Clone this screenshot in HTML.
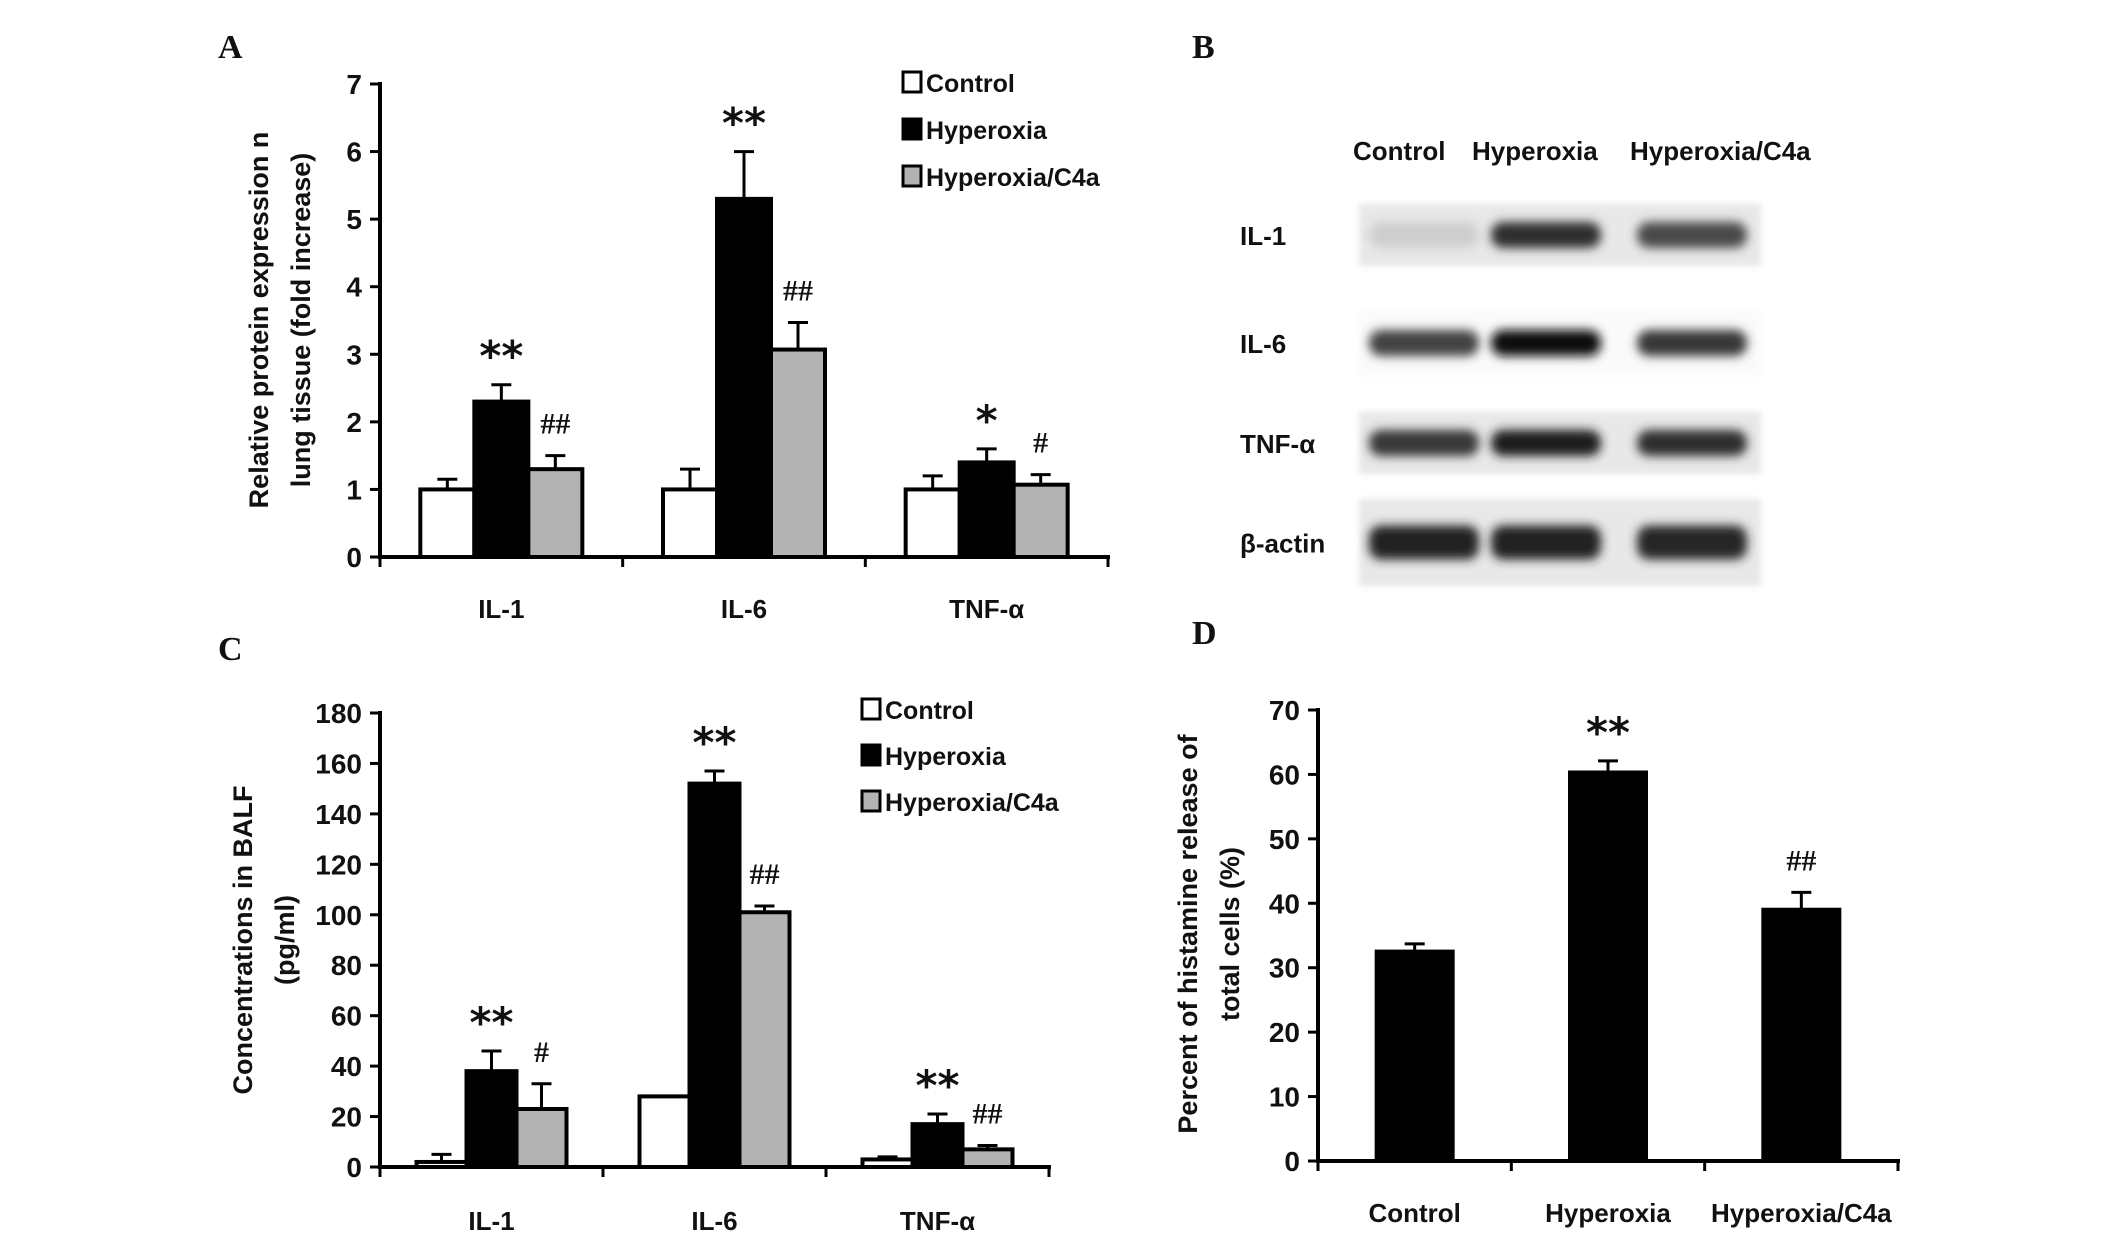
<!DOCTYPE html>
<html><head><meta charset="utf-8"><style>
html,body{margin:0;padding:0;background:#fff}
svg{display:block}
text{font-family:"Liberation Sans",sans-serif;font-weight:bold;fill:#111}
</style></head><body>
<svg id="fig" width="2126" height="1236" viewBox="0 0 2126 1236" xmlns="http://www.w3.org/2000/svg">
<defs>
<filter id="blur" x="-30%" y="-100%" width="160%" height="300%"><feGaussianBlur stdDeviation="5"/></filter>
<filter id="blur2"><feGaussianBlur stdDeviation="3"/></filter>
</defs>
<text x="218" y="58" style="font-family:'Liberation Serif',serif;font-size:34px">A</text>
<text x="1192" y="58" style="font-family:'Liberation Serif',serif;font-size:34px">B</text>
<text x="218" y="660" style="font-family:'Liberation Serif',serif;font-size:34px">C</text>
<text x="1192" y="644" style="font-family:'Liberation Serif',serif;font-size:34px">D</text>
<g id="blot"></g>
<g id="chartA"></g>
<g id="chartC"></g>
<g id="chartD"></g>
</svg>
<script>
// Panel A data
const catsA = ["IL-1","IL-6","TNF-α"];
const ctrlA = [1,1,1];
const ctrlErrA = [0.15,0.3,0.2];
const hypA = [2.3,5.3,1.4];
const hypErrA = [0.25,0.7,0.2];
const c4aA = [1.3,3.07,1.07];
const c4aErrA = [0.2,0.4,0.15];
const ticksA = [0,1,2,3,4,5,6,7];
const hypMarkA = ["**","**","*"];
const c4aMarkA = ["##","##","#"];
// Panel C data
const catsC = ["IL-1","IL-6","TNF-α"];
const ctrlC = [2,28,3];
const ctrlErrC = [3,0,1];
const hypC = [38,152,17];
const hypErrC = [8,5,4];
const c4aC = [23,101,7];
const c4aErrC = [10,2.5,1.5];
const ticksC = [0,20,40,60,80,100,120,140,160,180];
const hypMarkC = ["**","**","**"];
const c4aMarkC = ["#","##","##"];
// Panel D data
const catsD = ["Control","Hyperoxia","Hyperoxia/C4a"];
const valD = [32.5,60.3,39];
const errD = [1.2,1.8,2.7];
const ticksD = [0,10,20,30,40,50,60,70];
const markD = ["","**","##"];
// Blot data (band intensity 0..1)
const blotRows = ["IL-1","IL-6","TNF-α","β-actin"];
const blotLanes = ["Control","Hyperoxia","Hyperoxia/C4a"];
const blotIntensity = [[0.12,0.85,0.72],[0.75,1.0,0.8],[0.8,0.92,0.85],[0.9,0.9,0.88]];

const NS="http://www.w3.org/2000/svg";
function el(tag,attrs,parent,txt){const e=document.createElementNS(NS,tag);for(const k in attrs)e.setAttribute(k,attrs[k]);if(txt!==undefined)e.textContent=txt;parent.appendChild(e);return e;}

function groupedChart(g,cfg){
  const y=v=>cfg.y0-(v-cfg.min)/(cfg.max-cfg.min)*(cfg.y0-cfg.yTop);
  const n=cfg.cats.length, gw=(cfg.x1-cfg.x0)/n;
  cfg.ticks.forEach(t=>{
    const l=el('line',{x1:cfg.x0-10,x2:cfg.x0,y1:y(t),y2:y(t),stroke:'#000','stroke-width':3},g);
    
    const tx=el('text',{x:cfg.x0-18,y:y(t)+10,'text-anchor':'end','font-size':28},g,String(t));
    
  });
  for(let i=0;i<=n;i++){
    const l=el('line',{x1:cfg.x0+i*gw,x2:cfg.x0+i*gw,y1:cfg.y0,y2:cfg.y0+10,stroke:'#000','stroke-width':3},g);
    
  }
  cfg.cats.forEach((c,i)=>{
    const cx=cfg.x0+(i+0.5)*gw;
    const t=el('text',{x:cx,y:cfg.labelY,'text-anchor':'middle','font-size':26},g,c);
    
    const ns=cfg.series.length, bw=cfg.bw;
    cfg.series.forEach((s,j)=>{
      const bx=cx-ns*bw/2+j*bw;
      const v=s.vals[i], e=s.errs[i];
      const top=y(v+e);
      if(e>0){
        const el1=el('line',{x1:bx+bw/2,x2:bx+bw/2,y1:y(v),y2:top,stroke:'#000','stroke-width':3},g);
        
        const el2=el('line',{x1:bx+bw/2-10,x2:bx+bw/2+10,y1:top,y2:top,stroke:'#000','stroke-width':3},g);
        
      }
      const r=el('rect',{x:bx,y:y(v),width:bw,height:cfg.y0-y(v),fill:s.fill,stroke:'#000','stroke-width':4},g);
      
      if(s.marks&&s.marks[i]){
        const star=s.marks[i].startsWith('*');
        const m=el('text',{x:bx+bw/2,y:top-(star?14:22),'text-anchor':'middle','font-size':star?42:30,style:star?'font-family:"DejaVu Sans",sans-serif;font-weight:bold':'font-family:"Liberation Serif",serif;font-weight:bold'},g,s.marks[i]);
        
      }
    });
  });
  const ax=el('path',{d:`M${cfg.x0},${cfg.yTop-2} V${cfg.y0} H${cfg.x1+2}`,fill:'none',stroke:'#000','stroke-width':4},g);
  
  const tt=el('text',{transform:`translate(${cfg.titleX},${cfg.titleY}) rotate(-90)`,'text-anchor':'middle','font-size':27},g);
  
  cfg.title.forEach((line,k)=>{el('tspan',{x:0,dy:k===0?0:42},tt,line);});
  if(cfg.legend){
    cfg.series.forEach((s,j)=>{
      const ly=cfg.legend.y+j*cfg.legend.dy;
      const r=el('rect',{x:cfg.legend.x,y:ly-10,width:18,height:20,fill:s.fill,stroke:'#000','stroke-width':3},g);
      
      const t=el('text',{x:cfg.legend.x+23,y:ly+10,'font-size':25},g,s.label);
      
    });
  }
}

groupedChart(document.getElementById('chartA'),{
  cats:catsA,x0:380,x1:1108,y0:557,yTop:84,min:0,max:7,ticks:ticksA,bw:54,labelY:618,
  titleX:268,titleY:320,title:["Relative protein expression n","lung tissue (fold increase)"],
  legend:{x:903,y:82,dy:47},
  series:[
    {name:'control',label:'Control',fill:'#fff',vals:ctrlA,errs:ctrlErrA},
    {name:'hyperoxia',label:'Hyperoxia',fill:'#000',vals:hypA,errs:hypErrA,marks:hypMarkA},
    {name:'c4a',label:'Hyperoxia/C4a',fill:'#b3b3b3',vals:c4aA,errs:c4aErrA,marks:c4aMarkA}
  ]});
groupedChart(document.getElementById('chartC'),{
  cats:catsC,x0:380,x1:1049,y0:1167,yTop:713,min:0,max:180,ticks:ticksC,bw:50,labelY:1230,
  titleX:252,titleY:940,title:["Concentrations  in BALF","(pg/ml)"],
  legend:{x:862,y:709,dy:46},
  series:[
    {name:'control',label:'Control',fill:'#fff',vals:ctrlC,errs:ctrlErrC},
    {name:'hyperoxia',label:'Hyperoxia',fill:'#000',vals:hypC,errs:hypErrC,marks:hypMarkC},
    {name:'c4a',label:'Hyperoxia/C4a',fill:'#b3b3b3',vals:c4aC,errs:c4aErrC,marks:c4aMarkC}
  ]});
groupedChart(document.getElementById('chartD'),{
  cats:catsD,x0:1318,x1:1898,y0:1161,yTop:710,min:0,max:70,ticks:ticksD,bw:76,labelY:1222,
  titleX:1197,titleY:934,title:["Percent of histamine release of","total cells (%)"],
  series:[{name:'histamine',label:'',fill:'#000',vals:valD,errs:errD,marks:markD}]});

(function(){
  const g=document.getElementById('blot');
  const laneX=[1353,1472,1630];
  blotLanes.forEach((l,i)=>{const t=el('text',{x:laneX[i],y:160,'font-size':26},g,l);
    });
  const rowY=[[204,266],[310,376],[412,474],[499,586]];
  const bandCx=[1424,1546,1692];
  blotRows.forEach((r,k)=>{
    const t=el('text',{x:1240,y:(rowY[k][0]+rowY[k][1])/2+10,'font-size':26},g,r);
    
    const bg=el('rect',{x:1359,y:rowY[k][0],width:402,height:rowY[k][1]-rowY[k][0],fill:k===1?'#fafafa':'#e8e8e8',filter:'url(#blur2)'},g);
    
    blotIntensity[k].forEach((v,i)=>{
      const c=Math.round(232-v*220);
      const h=k===3?34:26;
      const b=el('rect',{x:bandCx[i]-55,y:(rowY[k][0]+rowY[k][1])/2-h/2,width:110,height:h,rx:12,fill:`rgb(${c},${c},${c})`,filter:'url(#blur)'},g);
      
    });
  });
})();
</script>
</body></html>
